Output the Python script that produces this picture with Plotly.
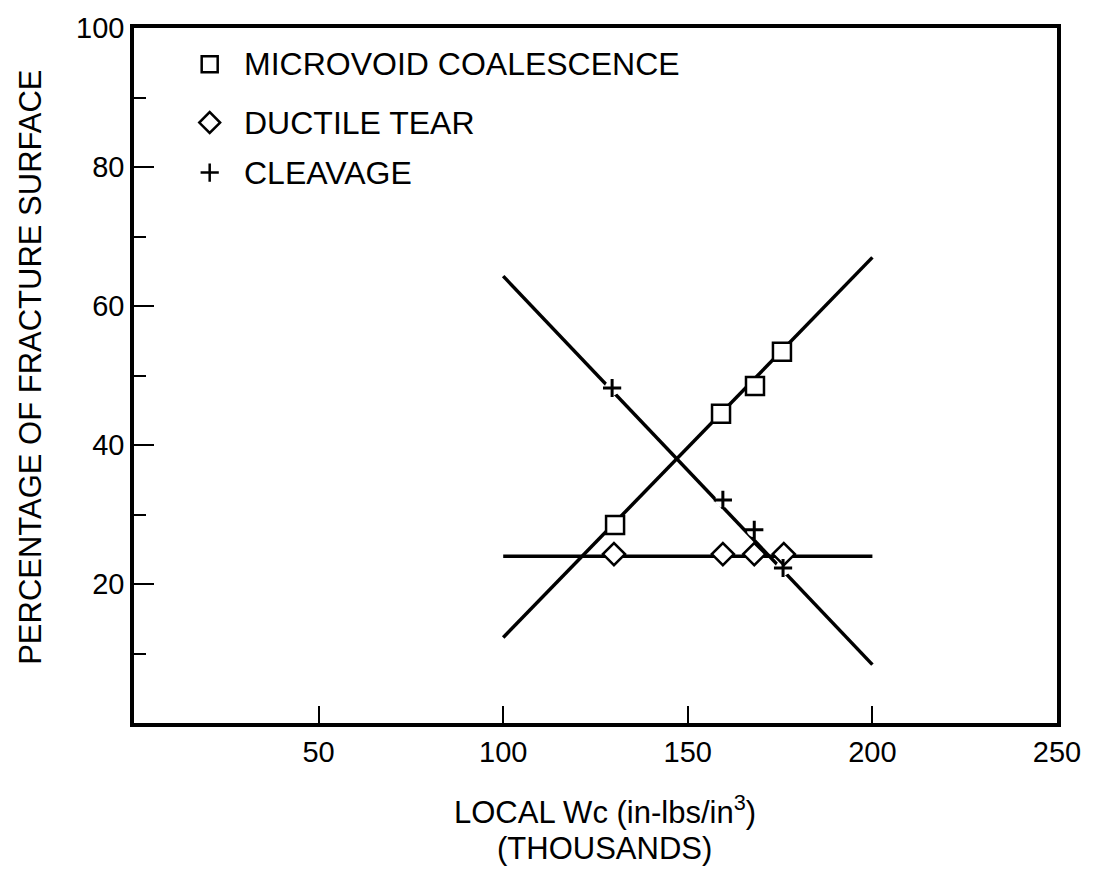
import plotly.graph_objects as go

# ---- data ----
microvoid_x = [130.3, 159.0, 168.2, 175.5]
microvoid_y = [28.5, 44.5, 48.5, 53.4]

ductile_x = [130.0, 159.5, 168.0, 176.0]
ductile_y = [24.3, 24.3, 24.3, 24.3]

cleavage_x = [129.5, 159.5, 168.0, 175.8]
cleavage_y = [48.2, 32.1, 27.8, 22.3]

fit_x = [100, 200]
microvoid_fit = [12.3, 67.0]
ductile_fit = [24.0, 24.0]
cleavage_fit = [64.3, 8.4]

x_ticks = [50, 100, 150, 200, 250]
y_ticks = [20, 40, 60, 80, 100]
y_minor = [10, 30, 50, 70, 90]

legend_labels = ["MICROVOID COALESCENCE", "DUCTILE TEAR", "CLEAVAGE"]

FONT = "Liberation Sans, Arial, Helvetica, sans-serif"
BLACK = "#000000"

fig = go.Figure()

# fitted lines
for fy in (microvoid_fit, ductile_fit, cleavage_fit):
    fig.add_trace(go.Scatter(x=fit_x, y=fy, mode="lines",
                             line=dict(color=BLACK, width=3.5),
                             showlegend=False, hoverinfo="skip"))

# white knock-outs behind crosses (gaps in the line)
fig.add_trace(go.Scatter(x=cleavage_x, y=cleavage_y, mode="markers",
                         marker=dict(symbol="circle", size=15, color="white",
                                     line=dict(width=0)),
                         showlegend=False, hoverinfo="skip"))

fig.add_trace(go.Scatter(x=microvoid_x, y=microvoid_y, mode="markers",
                         name=legend_labels[0],
                         marker=dict(symbol="square", size=18, color="white",
                                     line=dict(color=BLACK, width=2.5)),
                         showlegend=False))
fig.add_trace(go.Scatter(x=ductile_x, y=ductile_y, mode="markers",
                         name=legend_labels[1],
                         marker=dict(symbol="diamond", size=17, color="white",
                                     line=dict(color=BLACK, width=2.5)),
                         showlegend=False))
fig.add_trace(go.Scatter(x=cleavage_x, y=cleavage_y, mode="markers",
                         name=legend_labels[2],
                         marker=dict(symbol="cross-thin", size=13, color=BLACK,
                                     line=dict(color=BLACK, width=3)),
                         showlegend=False))

# legend drawn manually (markers in paper coordinates + text)
leg_sym = ["square-open", "diamond-open", "cross-thin"]
leg_size = [16, 16, 13]
leg_y = [0.948, 0.864, 0.792]
for sym, sz, ly, lab in zip(leg_sym, leg_size, leg_y, legend_labels):
    fig.add_trace(go.Scatter(x=[0.082], y=[ly], xaxis="x2", yaxis="y2",
                             mode="markers",
                             marker=dict(symbol=sym, size=sz, color=BLACK,
                                         line=dict(color=BLACK, width=2.5)),
                             showlegend=False, hoverinfo="skip"))
    fig.add_annotation(x=0.117, y=ly, xref="paper", yref="paper", text=lab,
                       showarrow=False, xanchor="left", yanchor="middle",
                       font=dict(family=FONT, size=32, color=BLACK))

fig.update_layout(
    width=1099, height=874,
    margin=dict(l=134, r=42, t=22, b=151),
    paper_bgcolor="white", plot_bgcolor="white",
    font=dict(family=FONT, size=29, color=BLACK),
    xaxis=dict(range=[0, 250], tickvals=x_ticks, ticks="inside", ticklen=17,
               tickwidth=2, tickcolor=BLACK, showline=True, linewidth=3.5,
               linecolor=BLACK, mirror=True, showgrid=False, zeroline=False,
               tickfont=dict(size=29), fixedrange=True),
    yaxis=dict(range=[0, 100], tickvals=y_ticks, ticks="inside", ticklen=20,
               tickwidth=2, tickcolor=BLACK, showline=True, linewidth=3.5,
               linecolor=BLACK, mirror=True, showgrid=False, zeroline=False,
               tickfont=dict(size=29),
               minor=dict(tickvals=y_minor, ticks="inside", ticklen=12,
                          tickwidth=2, tickcolor=BLACK, showgrid=False),
               fixedrange=True),
    xaxis2=dict(range=[0, 1], overlaying="x", visible=False, fixedrange=True),
    yaxis2=dict(range=[0, 1], overlaying="y", visible=False, fixedrange=True),
    showlegend=False,
)

fig.add_annotation(x=0.51, y=-0.1255, xref="paper", yref="paper",
                   text="LOCAL Wc (in-lbs/in<sup>3</sup>)", showarrow=False,
                   xanchor="center", yanchor="middle",
                   font=dict(family=FONT, size=31, color=BLACK))
fig.add_annotation(x=0.51, y=-0.181, xref="paper", yref="paper",
                   text="(THOUSANDS)", showarrow=False,
                   xanchor="center", yanchor="middle",
                   font=dict(family=FONT, size=31, color=BLACK))
fig.add_annotation(x=-0.113, y=0.512, xref="paper", yref="paper",
                   text="PERCENTAGE OF FRACTURE SURFACE", showarrow=False,
                   textangle=-90, xanchor="center", yanchor="middle",
                   font=dict(family=FONT, size=31, color=BLACK))

fig.write_html("out.html")
